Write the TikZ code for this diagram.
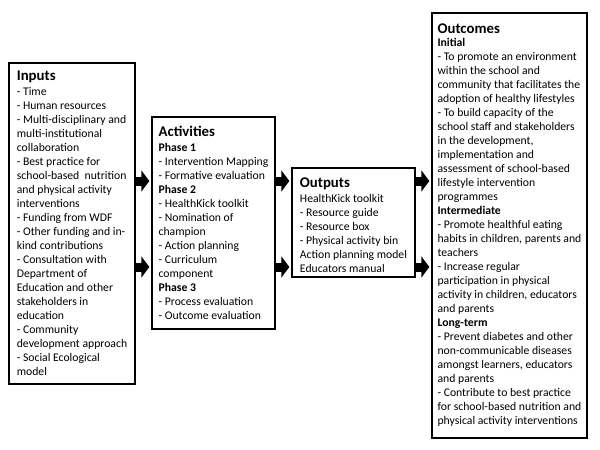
\documentclass[tikz,border=0pt]{standalone}
\usepackage{fontspec}
\setmainfont{Carlito}
\usetikzlibrary{arrows.meta}
\tikzset{
  stagebox/.style={draw, line width=1.3pt, align=left, inner sep=4pt,
    font=\fontsize{11.7}{14}\selectfont},
  bigarrow/.style={line width=9pt, -{Triangle[length=8pt,width=21pt]}, shorten >=2pt},
}
\newcommand{\stagetitle}[1]{{\fontsize{14.8}{16}\selectfont\bfseries #1}}
\newcommand{\subhead}[1]{{\bfseries #1}}
\begin{document}
\begin{tikzpicture}[x=1pt,y=-1pt]
\useasboundingbox (0,0) rectangle (600,450);
\node[stagebox, minimum width=126pt, minimum height=321pt] (inputs) at (72,223.5) {%
\stagetitle{Inputs}\\[1pt]
- Time\\
- Human resources\\
- Multi-disciplinary and\\
multi-institutional\\
collaboration\\
- Best practice for\\
school-based~ nutrition\\
and physical activity\\
interventions\\
- Funding from WDF\\
- Other funding and in-\\
kind contributions\\
- Consultation with\\
Department of\\
Education and other\\
stakeholders in\\
education\\
- Community\\
development approach\\
- Social Ecological\\
model};
\node[stagebox, minimum width=123pt, minimum height=212pt] (activities) at (213.5,223) {%
\stagetitle{Activities}\\[1pt]
\subhead{Phase 1}\\
- Intervention Mapping\\
- Formative evaluation\\
\subhead{Phase 2}\\
- HealthKick toolkit\\
- Nomination of\\
champion\\
- Action planning\\
- Curriculum\\
component\\
\subhead{Phase 3}\\
- Process evaluation\\
- Outcome evaluation};
\node[stagebox, minimum width=123pt, minimum height=109pt] (outputs) at (353.5,222.5) {%
\stagetitle{\rule{0pt}{15pt}Outputs}\\[1pt]
HealthKick toolkit\\
- Resource guide\\
- Resource box\\
- Physical activity bin\\
Action planning model\\
Educators manual};
\node[stagebox, minimum width=155pt, minimum height=425pt] (outcomes) at (509.5,225.5) {%
\stagetitle{Outcomes}\\[-1pt]
\subhead{Initial}\\
- To promote an environment\\
within the school and\\
community that facilitates the\\
adoption of healthy lifestyles\\
- To build capacity of the\\
school staff and stakeholders\\
in the development,\\
implementation and\\
assessment of school-based\\
lifestyle intervention\\
programmes\\
\subhead{Intermediate}\\
- Promote healthful eating\\
habits in children, parents and\\
teachers\\
- Increase regular\\
participation in physical\\
activity in children, educators\\
and parents\\
\subhead{Long-term}\\
- Prevent diabetes and other\\
non-communicable diseases\\
amongst learners, educators\\
and parents\\
- Contribute to best practice\\
for school-based nutrition and\\
physical activity interventions};
% arrows between the stages
\coordinate (upper) at (0,181);
\coordinate (lower) at (0,267);
\draw[bigarrow] (inputs.east |- upper) -- (activities.west |- upper);
\draw[bigarrow] (inputs.east |- lower) -- (activities.west |- lower);
\draw[bigarrow] (activities.east |- upper) -- (outputs.west |- upper);
\draw[bigarrow] (activities.east |- lower) -- (outputs.west |- lower);
\draw[bigarrow] (outputs.east |- upper) -- (outcomes.west |- upper);
\draw[bigarrow] (outputs.east |- lower) -- (outcomes.west |- lower);
\end{tikzpicture}
\end{document}
